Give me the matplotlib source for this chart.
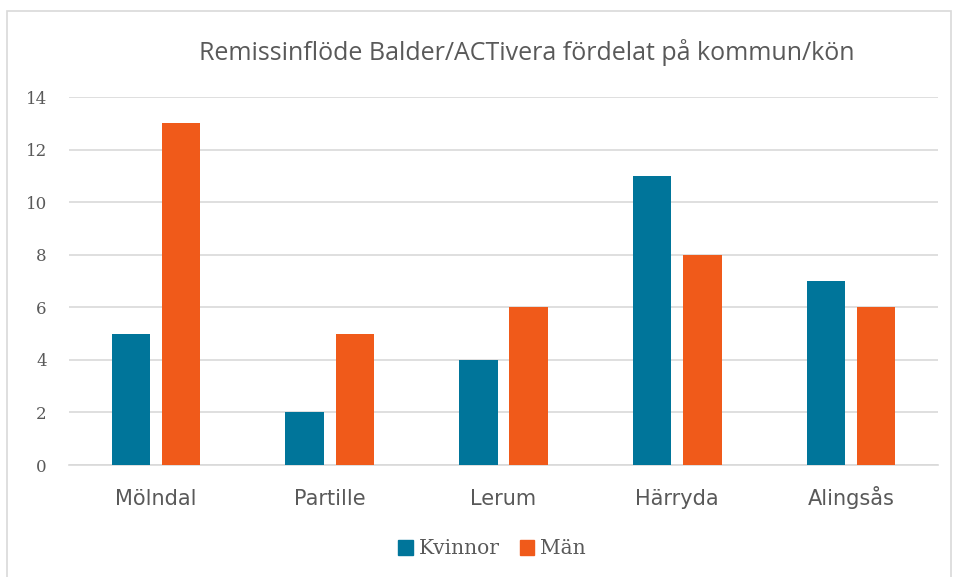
import matplotlib
matplotlib.use("Agg")
import matplotlib.pyplot as plt
from matplotlib.patches import Rectangle, Patch
import numpy as np

categories = ["Mölndal", "Partille", "Lerum", "Härryda", "Alingsås"]
kvinnor = [5, 2, 4, 11, 7]
man = [13, 5, 6, 8, 6]
series_names = ["Kvinnor", "Män"]
yticks = [0, 2, 4, 6, 8, 10, 12, 14]

c_blue = "#00759A"
c_orange = "#F05A1A"
txt = "#595959"

fig = plt.figure(figsize=(9.55, 5.77), dpi=100)
fig.patches.append(Rectangle((7/955, -0.01), 944/955, 1 - 11/577 + 0.01, transform=fig.transFigure,
                             fill=False, edgecolor="#D9D9D9", linewidth=1.2))
ax = fig.add_axes([69/955, 1-465/577, (938-69)/955, (465-97)/577])

x = np.arange(len(categories))
w = 0.22
gap = 0.069
ax.bar(x - (w+gap)/2, kvinnor, width=w, color=c_blue, label=series_names[0], zorder=3)
ax.bar(x + (w+gap)/2, man, width=w, color=c_orange, label=series_names[1], zorder=3)

ax.set_xlim(-0.5, len(categories)-0.5)
ax.set_ylim(0, 14)
ax.set_yticks(yticks)
ax.set_yticklabels([str(t) for t in yticks], fontfamily="DejaVu Serif", fontsize=12, color=txt)
ax.set_xticks(x)
ax.set_xticklabels(categories, fontfamily="DejaVu Sans", fontsize=15, color=txt, va="baseline")
ax.tick_params(axis="both", length=0)
ax.tick_params(axis="y", pad=16)
ax.tick_params(axis="x", pad=29)
ax.grid(axis="y", color="#D9D9D9", linewidth=1.2, zorder=0)
for s in ["top", "right", "left"]:
    ax.spines[s].set_visible(False)
ax.spines["bottom"].set_color("#D9D9D9")
ax.spines["bottom"].set_linewidth(1.2)

fig.text(527/955, 1-52/577, "Remissinflöde Balder/ACTivera fördelat på kommun/kön",
         ha="center", va="center", fontsize=18, color=txt, fontfamily="Open Sans")

handles = [Patch(color=c_blue), Patch(color=c_orange)]
fig.legend(handles, series_names, loc="center", bbox_to_anchor=(492/955, 1-549/577), ncol=2,
           frameon=False, handlelength=0.7, handleheight=0.7, handletextpad=0.3, columnspacing=1.0,
           prop={"family": "DejaVu Serif", "size": 14.5}, labelcolor=txt)

fig.savefig("out.png", dpi=100)
